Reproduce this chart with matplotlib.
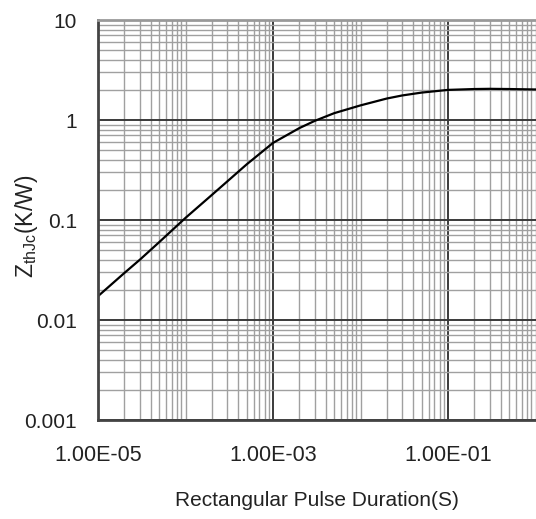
import numpy as np
import matplotlib
matplotlib.use("Agg")
from matplotlib import pyplot as plt
from matplotlib.ticker import FixedLocator, NullFormatter

plt.rcParams['font.family'] = ['Liberation Sans', 'DejaVu Sans']
plt.rcParams['mathtext.fontset'] = 'custom'
plt.rcParams['mathtext.rm'] = 'Liberation Sans'

# pulse duration (s) and thermal impedance (K/W)
pulse_s = [1e-5, 2e-5, 3e-5, 5e-5, 1e-4, 2e-4, 3e-4, 5e-4, 1e-3, 2e-3,
           3e-3, 5e-3, 1e-2, 2e-2, 3e-2, 5e-2, 1e-1, 2e-1, 3e-1, 5e-1, 1.0]
zth = [0.0173, 0.0295, 0.040, 0.060, 0.105, 0.178, 0.243, 0.36, 0.59, 0.83,
       0.98, 1.17, 1.40, 1.64, 1.76, 1.88, 2.0, 2.04, 2.05, 2.04, 2.02]

x_major = [1e-5, 1e-3, 1e-1]
x_labels = ['1.00E-05', '1.00E-03', '1.00E-01']
y_major = [0.001, 0.01, 0.1, 1, 10]
y_labels = ['0.001', '0.01', '0.1', '1', '10']

fig = plt.figure(figsize=(5.36, 5.19), dpi=100)
ax = fig.add_axes([98/536, 1 - 420/519, 437.5/536, 400/519])

ax.set_xscale('log')
ax.set_yscale('log')
ax.set_xlim(1e-5, 1)
ax.set_ylim(0.001, 10)

# minor grid at every 1..9 x 10^n
x_minor = [m * 10.0**e for e in range(-5, 1) for m in range(1, 10)]
y_minor = [m * 10.0**e for e in range(-3, 1) for m in range(1, 10)]
ax.xaxis.set_major_locator(FixedLocator(x_major))
ax.xaxis.set_minor_locator(FixedLocator(x_minor))
ax.yaxis.set_major_locator(FixedLocator(y_major))
ax.yaxis.set_minor_locator(FixedLocator(y_minor))
ax.set_xticklabels(x_labels)
ax.set_yticklabels(y_labels)
ax.xaxis.set_minor_formatter(NullFormatter())
ax.yaxis.set_minor_formatter(NullFormatter())

ax.grid(which='minor', color='#a0a0a0', linewidth=1.0)
ax.grid(which='major', color='#3a3a3a', linewidth=1.4)
ax.set_axisbelow(True)

ax.tick_params(which='both', length=0)
ax.tick_params(axis='y', pad=15, labelsize=15, colors='#222222')
ax.tick_params(axis='x', pad=18, labelsize=15.5, colors='#222222')

for side in ['left', 'bottom']:
    ax.spines[side].set_color('#444444')
    ax.spines[side].set_linewidth(2.0)
ax.spines['top'].set_color('#999999')
ax.spines['top'].set_linewidth(2.0)
ax.spines['right'].set_visible(False)

ax.plot(pulse_s, zth, color='black', linewidth=1.6)

ax.set_xlabel('Rectangular Pulse Duration(S)', fontsize=15, labelpad=18, color='#222222')
fig.text(26/536, 1 - 226/519, r'Z$_{\mathrm{thJc}}$(K/W)', fontsize=16.5,
         rotation=90, ha='center', va='center', color='#222222')

fig.savefig('out.png', dpi=100)
